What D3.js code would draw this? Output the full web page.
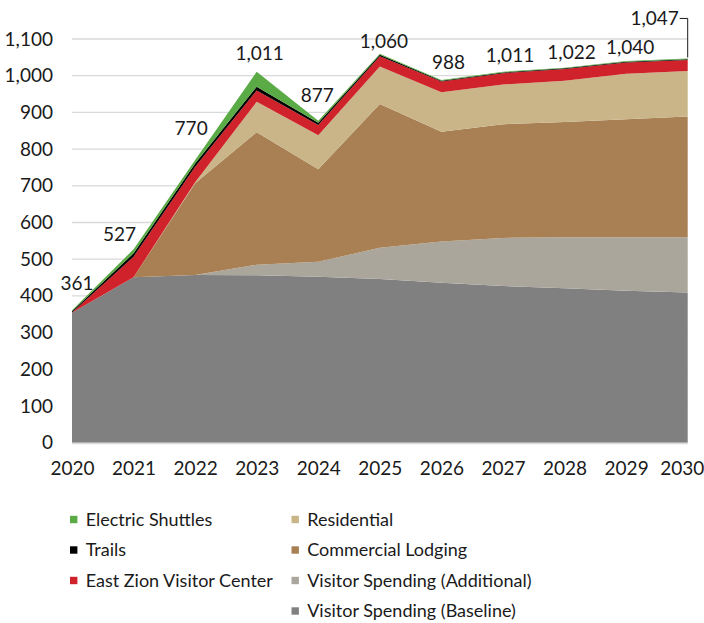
<!DOCTYPE html>
<html>
<head>
<meta charset="utf-8">
<script src="https://cdn.jsdelivr.net/npm/d3@7"></script>
<style>
  html, body { margin: 0; padding: 0; background: #fff; }
  svg { display: block; }
  text { font-family: Lato, "Open Sans", sans-serif; fill: #1a1a1a; }
</style>
</head>
<body>
<svg id="chart" width="704" height="623"></svg>
<script>
// ---- data ----
const years = [2020, 2021, 2022, 2023, 2024, 2025, 2026, 2027, 2028, 2029, 2030];
const seriesNames = [
  "Visitor Spending (Baseline)",
  "Visitor Spending (Additional)",
  "Commercial Lodging",
  "Residential",
  "East Zion Visitor Center",
  "Trails",
  "Electric Shuttles"
];
const visitorBaseline   = [354, 451, 457, 456, 452, 446, 436, 427, 421, 414, 409];
const visitorAdditional = [0,   0,   0,   29,  41,  85,  112, 131, 139, 146, 151];
const commercialLodging = [0,   0,   250, 361, 252, 392, 299, 310, 314, 321, 329];
const residential       = [0,   0,   3,   83,  93,  102, 108, 108, 112, 124, 124];
const eastZionVC        = [1,   56,  42,  31,  28,  28,  29,  31,  32,  31,  30];
const trails            = [3,   9,   9,   10,  6,   4,   2,   2,   2,   2,   2];
const electricShuttles  = [3,   11,  9,   41,  5,   3,   2,   2,   2,   2,   2];
const totalLabels = ["361", "527", "770", "1,011", "877", "1,060", "988", "1,011", "1,022", "1,040", "1,047"];
const yTicks = [0, 100, 200, 300, 400, 500, 600, 700, 800, 900, 1000, 1100];
const colors = ["#808080", "#aaa69b", "#a88054", "#c9b588", "#d0222a", "#000000", "#5aab45"];

// label offsets (layout, px) relative to each point
const labelDx = [5, -14, -4, 3, -1, 4, 7, 7, 7, 4, -33];
const labelDy = [-27, -15, -32, -18, -25, -12, -17.5, -16, -15, -13.5, -40];

// ---- build table ----
const seriesValues = [visitorBaseline, visitorAdditional, commercialLodging, residential, eastZionVC, trails, electricShuttles];
const table = years.map((y, i) => {
  const row = { year: y };
  seriesNames.forEach((n, k) => row[n] = seriesValues[k][i]);
  return row;
});

const svg = d3.select("#chart");
const x = d3.scaleLinear().domain([2020, 2030]).range([72, 687.7]);
const y = d3.scaleLinear().domain([0, 1100]).range([442.7, 39]);

// gridlines
svg.append("g").selectAll("line").data(yTicks.filter(t => t > 0)).join("line")
  .attr("x1", x(2020)).attr("x2", x(2030))
  .attr("y1", d => y(d)).attr("y2", d => y(d))
  .attr("stroke", "#d9d9d9").attr("stroke-width", 1.3);

// stacked areas
const stack = d3.stack().keys(seriesNames);
const layers = stack(table);
const area = d3.area()
  .x(d => x(d.data.year))
  .y0(d => y(d[0]))
  .y1(d => y(d[1]));
svg.append("g").selectAll("path").data(layers).join("path")
  .attr("d", area)
  .attr("fill", (d, i) => colors[i]);

// bottom axis line
svg.append("line")
  .attr("x1", x(2020)).attr("x2", x(2030))
  .attr("y1", y(0) + 0.8).attr("y2", y(0) + 0.8)
  .attr("stroke", "#d9d9d9").attr("stroke-width", 1.3);

// y axis labels
const yAxis = d3.axisLeft(y).tickValues(yTicks).tickSize(0).tickPadding(0)
  .tickFormat(d3.format(","));
const gy = svg.append("g").attr("transform", "translate(53,0)").call(yAxis);
gy.select(".domain").remove();
gy.selectAll("text").attr("font-size", 19).attr("font-family", "Lato, sans-serif").attr("fill", "#1a1a1a");

// x axis labels
const xAxis = d3.axisBottom(x).tickValues(years).tickSize(0).tickPadding(0).tickFormat(d3.format("d"));
const gx = svg.append("g").attr("transform", "translate(0,468)").call(xAxis);
gx.select(".domain").remove();
gx.selectAll("text").attr("font-size", 19).attr("font-family", "Lato, sans-serif").attr("fill", "#1a1a1a")
  .attr("dy", "0.35em")
  .attr("dx", (d, i) => i === years.length - 1 ? -6 : 0);

// total labels
const totals = layers[layers.length - 1].map(d => d[1]);
svg.append("g").selectAll("text").data(years).join("text")
  .attr("x", (d, i) => x(d) + labelDx[i])
  .attr("y", (d, i) => y(totals[i]) + labelDy[i])
  .attr("dy", "0.35em")
  .attr("text-anchor", "middle")
  .attr("font-size", 19)
  .text((d, i) => totalLabels[i]);

// leader line for last label
const last = years.length - 1;
svg.append("path")
  .attr("d", `M${x(years[last]) - 8},${y(totals[last]) + labelDy[last]}H${x(years[last])}V${y(totals[last]) - 1}`)
  .attr("fill", "none").attr("stroke", "#1a1a1a").attr("stroke-width", 1);

// legend
const legendOrder = [
  { name: "Electric Shuttles", idx: 6, col: 0, row: 0 },
  { name: "Trails", idx: 5, col: 0, row: 1 },
  { name: "East Zion Visitor Center", idx: 4, col: 0, row: 2 },
  { name: "Residential", idx: 3, col: 1, row: 0 },
  { name: "Commercial Lodging", idx: 2, col: 1, row: 1 },
  { name: "Visitor Spending (Additional)", idx: 1, col: 1, row: 2 },
  { name: "Visitor Spending (Baseline)", idx: 0, col: 1, row: 3 }
];
const colX = [70, 291.5];
const legend = svg.append("g");
const li = legend.selectAll("g").data(legendOrder).join("g")
  .attr("transform", d => `translate(${colX[d.col]},${519.5 + d.row * 30.5})`);
li.append("rect").attr("x", 0).attr("y", -3.7).attr("width", 7.4).attr("height", 7.4)
  .attr("fill", d => colors[d.idx]);
li.append("text").attr("x", 15.7).attr("dy", "0.35em").attr("font-size", 18)
  .text(d => d.name);
</script>
</body>
</html>
